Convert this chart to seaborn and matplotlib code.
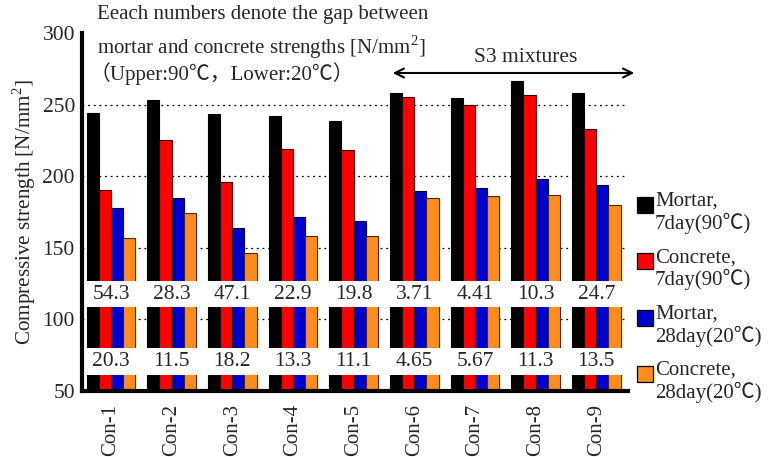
import matplotlib
matplotlib.use("Agg")
import matplotlib.pyplot as plt
import seaborn as sns
import pandas as pd
from matplotlib.patches import Rectangle, FancyArrowPatch

categories = ["Con-1", "Con-2", "Con-3", "Con-4", "Con-5", "Con-6", "Con-7", "Con-8", "Con-9"]
series_names = ["Mortar,\n7day(90℃)", "Concrete,\n7day(90℃)", "Mortar,\n28day(20℃)", "Concrete,\n28day(20℃)"]
mortar_7d_90 = [244.2, 253.2, 243.3, 242.1, 238.4, 258.1, 254.4, 266.2, 258.1]
concrete_7d_90 = [190.3, 225.2, 196.0, 219.2, 218.0, 255.3, 250.0, 256.5, 232.8]
mortar_28d_20 = [177.5, 184.9, 163.9, 171.5, 169.0, 189.8, 191.4, 197.9, 193.7]
concrete_28d_20 = [157.0, 174.3, 146.3, 158.3, 158.3, 184.9, 186.1, 187.0, 179.9]
gap_upper = ["54.3", "28.3", "47.1", "22.9", "19.8", "3.71", "4.41", "10.3", "24.7"]
gap_lower = ["20.3", "11.5", "18.2", "13.3", "11.1", "4.65", "5.67", "11.3", "13.5"]
colors = ["#000000", "#ff0000", "#0000cc", "#ff8c1e"]
edges = ["#000000", "#3a0000", "#000033", "#4a2800"]

sns.set_style("white")
serif = ["Liberation Serif", "Noto Sans CJK JP", "DejaVu Sans"]
plt.rcParams["font.family"] = serif
plt.rcParams["mathtext.fontset"] = "custom"
plt.rcParams["mathtext.rm"] = "Liberation Serif"

rows = []
for s, vals in zip(series_names, [mortar_7d_90, concrete_7d_90, mortar_28d_20, concrete_28d_20]):
    for c, v in zip(categories, vals):
        rows.append({"cat": c, "series": s, "value": v})
df = pd.DataFrame(rows)

W, H = 772, 457
fig = plt.figure(figsize=(W / 100, H / 100), dpi=100)
ax = fig.add_axes([0.106, 0.1444, 0.708, 0.7836])

sns.barplot(data=df, x="cat", y="value", hue="series", order=categories,
            hue_order=series_names, palette=colors, width=0.8, ax=ax,
            legend=False, saturation=1, linewidth=0.8, edgecolor="black", zorder=1)
for i, cont in enumerate(ax.containers):
    for b in cont:
        b.set_edgecolor(edges[i])

ax.set_ylim(50, 300)
ax.set_xlim(-0.48, 8.53)
for yv in [100, 150, 200, 250]:
    ax.axhline(yv, color="black", lw=0.9, ls=(0, (1.5, 3)), zorder=0.5)

# white bands that hold the gap values
ax.axhspan(108.8, 126.8, color="white", zorder=2, lw=0)
ax.axhspan(61.5, 80.1, color="white", zorder=2, lw=0)
for i in range(len(categories)):
    ax.text(i, 117.6, gap_upper[i], ha="center", va="center", fontsize=15.5, zorder=3)
    ax.text(i, 70.6, gap_lower[i], ha="center", va="center", fontsize=15.5, zorder=3)

for side in ["top", "right"]:
    ax.spines[side].set_visible(False)
for side in ["left", "bottom"]:
    ax.spines[side].set_linewidth(3)
    ax.spines[side].set_color("black")
    ax.spines[side].set_zorder(4)

ax.set_yticks([50, 100, 150, 200, 250, 300])
ax.tick_params(axis="y", labelsize=15.5, direction="in", length=4, width=0.8, pad=5)
ax.set_xticks(range(len(categories)))
ax.set_xticklabels(categories, rotation=90, fontsize=15)
ax.tick_params(axis="x", length=0, pad=9)
ax.set_xticks([k + 0.5 for k in range(len(categories))], minor=True)
ax.tick_params(axis="x", which="minor", direction="in", length=3, width=0.8)
ax.set_xlabel("")
ax.set_ylabel("Compressive strength [N/mm$^2$]", fontsize=15.2, labelpad=3)

fig.text(97 / W, 1 - 14 / H, "Eeach numbers denote the gap between", fontsize=15,
         va="center", ha="left")
fig.text(97 / W, 1 - 47 / H, "mortar and concrete strengths [N/mm$^2$]", fontsize=15,
         va="center", ha="left")
fig.text(90 / W, 1 - 74 / H, "（Upper:90℃，Lower:20℃）", fontsize=15,
         va="center", ha="left")
fig.text(526 / W, 1 - 57 / H, "S3 mixtures", fontsize=15.5, va="center", ha="center")
fig.add_artist(FancyArrowPatch(
    (390 / W, 1 - 73 / H), (637 / W, 1 - 73 / H), transform=fig.transFigure,
    arrowstyle="<->", mutation_scale=16, lw=1.5, color="black"))

# legend: square aligned with the first line of each two-line label
for i, (c, name) in enumerate(zip(colors, series_names)):
    top = 197 + 56.3 * i
    fig.add_artist(Rectangle((637 / W, 1 - (top + 16) / H), 16 / W, 16 / H,
                             transform=fig.transFigure, facecolor=c,
                             edgecolor="black", lw=0.9))
    fig.text(655 / W, 1 - (top - 5) / H, name, fontsize=15, va="top", ha="left",
             linespacing=1.12)

fig.savefig("out.png", dpi=100)
